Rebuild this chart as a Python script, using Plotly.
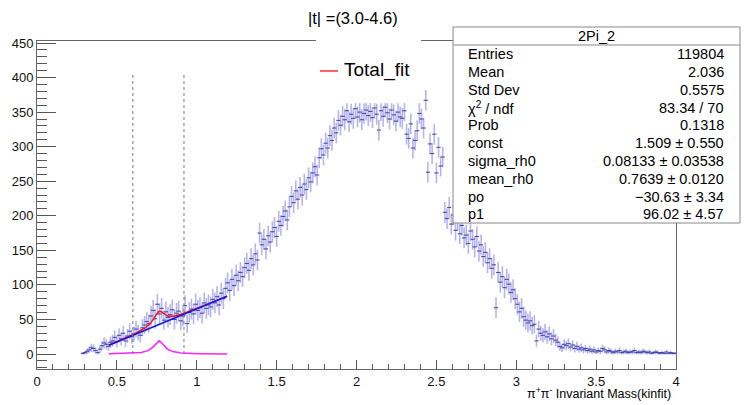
import numpy as np
import plotly.graph_objects as go

# ---------------- data ----------------
BIN_WIDTH = 4.0 / 300
FIRST_EDGE = 0.28
counts = [
    1, 2, 4, 6, 9, 8, 5, 2, 7, 12, 16, 14, 11, 17, 19,
    24, 18, 27, 22, 30, 19, 26, 33, 25, 29, 36, 31, 27, 38, 42,
    47, 44, 55, 63, 51, 72, 58, 66, 49, 61, 53, 57, 64, 50, 59,
    62, 48, 55, 70, 44, 60, 65, 58, 72, 63, 67, 59, 74, 66, 71,
    68, 79, 74, 83, 71, 88, 80, 95, 103, 92, 108, 99, 114, 106, 118,
    112, 125, 131, 121, 138, 129, 145, 136, 175, 158, 166, 152, 171, 162, 177,
    183, 170, 192, 186, 199, 207, 194, 213, 228, 219, 236, 224, 241, 230, 246,
    238, 255, 249, 262, 271, 259, 284, 297, 288, 305, 298, 316, 309, 327, 320,
    338, 331, 344, 339, 352, 336, 347, 341, 355, 343, 350, 339, 348, 353, 345,
    351, 342, 356, 347, 324, 352, 344, 357, 349, 340, 353, 346, 337, 350, 343,
    341, 352, 318, 312, 333, 298, 309, 323, 348, 340, 327, 367, 263, 304, 290,
    318, 262, 299, 272, 285, 205, 196, 212, 188, 201, 179, 193, 174, 186, 168,
    172, 160, 178, 166, 155, 170, 149, 158, 141, 147, 132, 138, 124, 129, 67,
    118, 104, 112, 96, 108, 101, 89, 93, 80, 72, 61, 66, 54, 49, 45,
    48, 41, 43, 19, 36, 30, 27, 32, 25, 29, 22, 26, 20, 17, 11,
    9, 14, 12, 15, 10, 13, 8, 11, 7, 9, 6, 8, 5, 7, 4,
    6, 3, 5, 4, 8, 6, 3, 5, 4, 2, 4, 3, 5, 2, 3,
    4, 2, 3, 3, 5, 2, 3, 2, 4, 3, 2, 3, 1, 2, 3,
    2, 1, 2, 1, 3, 1, 2, 1, 1,
]
ERR_CLIP = 363.0

# fit results (from stats box)
P0, P1 = -30.63, 96.02
MEAN_RHO, SIGMA_RHO = 0.7639, 0.08133
BW_PEAK = 19.0
FIT_RANGE = (0.45, 1.19)
CUT_LINES = [0.60, 0.92]
CUT_TOP = 408

title_text = "|t| =(3.0-4.6)"
stats_title = "2Pi_2"
stats_rows = [
    ("Entries", "119804"),
    ("Mean", "2.036"),
    ("Std Dev", "0.5575"),
    ("χ<sup>2</sup> / ndf", "83.34 / 70"),
    ("Prob", "0.1318"),
    ("const", "1.509 ± 0.550"),
    ("sigma_rh0", "0.08133 ± 0.03538"),
    ("mean_rh0", "0.7639 ± 0.0120"),
    ("po", "−30.63 ± 3.34"),
    ("p1", "96.02 ± 4.57"),
]

# ---------------- derived ----------------
v = np.array(counts, dtype=float)
xc = FIRST_EDGE + (np.arange(len(v)) + 0.5) * BIN_WIDTH
err = np.minimum(2.0 * np.sqrt(v), 15.0)
err_up = np.where(v < ERR_CLIP, np.minimum(err, ERR_CLIP - v), err)

xf = np.linspace(FIT_RANGE[0], FIT_RANGE[1], 300)
lin = P0 + P1 * xf
hw = SIGMA_RHO / 2
bw = BW_PEAK * hw**2 / ((xf - MEAN_RHO) ** 2 + hw**2)

# ---------------- layout geometry (window pixel coords) ----------------
PAGE_MARGIN = 8          # default body margin of the html page
WIN_W, WIN_H = 751, 405
L, R, T, B = 37, 676, 41, 369
FIG_W = WIN_W - PAGE_MARGIN
FIG_H = WIN_H - PAGE_MARGIN


def px(xp):
    return (xp - L) / (R - L)


def py(yp):
    return (B - yp) / (B - T)


FONT = "Liberation Sans, Arial, Helvetica, sans-serif"

fig = go.Figure()

fig.add_trace(go.Scatter(
    x=xc, y=v, mode="markers",
    marker=dict(symbol="line-ew", size=3, line=dict(width=1.1, color="rgba(50,50,160,0.85)"),
                color="rgba(50,50,160,0.85)"),
    error_y=dict(type="data", symmetric=False, array=err_up, arrayminus=err,
                 color="rgba(120,120,220,0.55)", thickness=1.6, width=0),
    showlegend=False, hoverinfo="skip",
))

fig.add_trace(go.Scatter(x=xf, y=lin + bw, mode="lines",
                         line=dict(color="#ff1010", width=1.5), showlegend=False))
fig.add_trace(go.Scatter(x=xf, y=lin, mode="lines",
                         line=dict(color="#1515e0", width=1.5), showlegend=False))
fig.add_trace(go.Scatter(x=xf, y=bw, mode="lines",
                         line=dict(color="#ff20ff", width=1.5), showlegend=False))

shapes = []
for cx in CUT_LINES:
    shapes.append(dict(type="line", xref="x", yref="y", x0=cx, x1=cx, y0=0, y1=CUT_TOP,
                       line=dict(color="#777", width=1, dash="dot")))

# legend background (covers frame top line)
shapes.append(dict(type="rect", xref="paper", yref="paper", layer="above",
                   x0=px(316), x1=px(421), y0=py(86), y1=py(35),
                   fillcolor="white", line=dict(width=0)))
shapes.append(dict(type="line", xref="paper", yref="paper", layer="above",
                   x0=px(320), x1=px(338), y0=py(71), y1=py(71),
                   line=dict(color="#ff3030", width=1.5)))

# stats box
shapes.append(dict(type="rect", xref="paper", yref="paper", layer="above",
                   x0=px(453), x1=px(740), y0=py(223), y1=py(27),
                   fillcolor="white", line=dict(color="#888", width=1)))
shapes.append(dict(type="line", xref="paper", yref="paper", layer="above",
                   x0=px(453), x1=px(740), y0=py(45), y1=py(45),
                   line=dict(color="#888", width=1)))

ann = []
ann.append(dict(text=title_text, xref="paper", yref="paper", x=px(353), y=py(18),
                showarrow=False, font=dict(size=16.5, family=FONT, color="black"),
                xanchor="center", yanchor="middle", borderpad=0))
ann.append(dict(text="Total_fit", xref="paper", yref="paper", x=px(342), y=py(70),
                showarrow=False, font=dict(size=19, family=FONT, color="black"),
                xanchor="left", yanchor="middle"))
ann.append(dict(text=stats_title, xref="paper", yref="paper", x=px(596), y=py(36),
                showarrow=False, font=dict(size=14.5, family=FONT, color="black"),
                xanchor="center", yanchor="middle"))
for k, (lab, val) in enumerate(stats_rows):
    yy = 54.5 + k * 17.75
    ann.append(dict(text=lab, xref="paper", yref="paper", x=px(466), y=py(yy),
                    showarrow=False, font=dict(size=14.5, family=FONT, color="black"),
                    xanchor="left", yanchor="middle"))
    ann.append(dict(text=val, xref="paper", yref="paper", x=px(726), y=py(yy),
                    showarrow=False, font=dict(size=14.5, family=FONT, color="black"),
                    xanchor="right", yanchor="middle"))
ann.append(dict(text="π<sup>+</sup>π<sup>-</sup> Invariant Mass(kinfit)",
                xref="paper", yref="paper", x=px(673), y=py(393),
                showarrow=False, font=dict(size=12.5, family=FONT, color="black"),
                xanchor="right", yanchor="middle"))

fig.update_layout(
    width=FIG_W, height=FIG_H,
    margin=dict(l=L - PAGE_MARGIN, r=FIG_W - (R - PAGE_MARGIN), t=T - PAGE_MARGIN,
                b=FIG_H - (B - PAGE_MARGIN), pad=0, autoexpand=False),
    paper_bgcolor="white", plot_bgcolor="white",
    font=dict(family=FONT, color="black"),
    shapes=shapes, annotations=ann, showlegend=False,
    xaxis=dict(range=[0, 4], showgrid=False, zeroline=False, automargin=False,
               showline=True, mirror=True, linecolor="#666", linewidth=1,
               ticks="inside", ticklen=9, tickcolor="#555", dtick=0.5, tick0=0,
               tickfont=dict(size=13, family=FONT, color="#111"),
               minor=dict(ticks="inside", ticklen=5, dtick=0.1, tickcolor="#555")),
    yaxis=dict(range=[-21.7, 452.9], showgrid=False, zeroline=False, automargin=False,
               showline=True, mirror=True, linecolor="#666", linewidth=1,
               ticks="inside", ticklen=19, tickcolor="#555", dtick=50, tick0=0,
               tickfont=dict(size=13, family=FONT, color="#111"),
               minor=dict(ticks="inside", ticklen=10, dtick=10, tickcolor="#555")),
)

fig.write_html("out.html")
